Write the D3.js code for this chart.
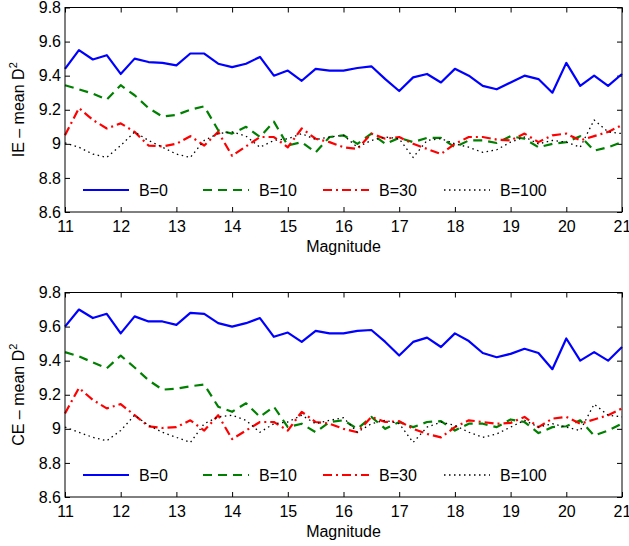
<!DOCTYPE html>
<html>
<head>
<meta charset="utf-8">
<script src="https://cdn.jsdelivr.net/npm/d3@7"></script>
<style>
  body { margin: 0; background: #fff; }
  svg { display: block; font-family: "Liberation Sans", Arial, sans-serif; }
  .axis path { display: none; }
  .axis line { stroke: #000; }
  .axis text { font-size: 16px; fill: #000; font-family: "Liberation Sans", Arial, sans-serif; }
</style>
</head>
<body>
<svg width="629" height="546"></svg>
<script>
// magnitudes (x values)
var magnitude = [11, 11.25, 11.5, 11.75, 12, 12.25, 12.5, 12.75, 13, 13.25, 13.5, 13.75,
  14, 14.25, 14.5, 14.75, 15, 15.25, 15.5, 15.75, 16, 16.25, 16.5, 16.75, 17, 17.25,
  17.5, 17.75, 18, 18.25, 18.5, 18.75, 19, 19.25, 19.5, 19.75, 20, 20.25, 20.5, 20.75, 21];

var xTicks = [11, 12, 13, 14, 15, 16, 17, 18, 19, 20, 21];
var yTicks = [8.6, 8.8, 9, 9.2, 9.4, 9.6, 9.8];
var seriesNames = ["B=0", "B=10", "B=30", "B=100"];

// top panel: IE
var ieB0 = [9.44, 9.55, 9.495, 9.52, 9.41, 9.50, 9.48, 9.475, 9.46, 9.53, 9.53, 9.47,
  9.45, 9.47, 9.51, 9.40, 9.43, 9.37, 9.44, 9.43, 9.43, 9.445, 9.455, 9.38, 9.31, 9.39,
  9.41, 9.36, 9.44, 9.40, 9.34, 9.32, 9.36, 9.40, 9.38, 9.30, 9.475, 9.34, 9.40, 9.34, 9.41];
var ieB10 = [9.344, 9.32, 9.295, 9.26, 9.344, 9.285, 9.21, 9.16, 9.17, 9.20, 9.22, 9.08,
  9.06, 9.10, 9.04, 9.13, 8.99, 9.01, 8.95, 9.04, 9.05, 9.00, 9.06, 9.00, 9.035, 9.01,
  9.035, 9.035, 8.98, 9.02, 9.02, 9.005, 9.045, 9.03, 8.98, 9.00, 9.01, 9.045, 8.96, 8.98, 9.01];
var ieB30 = [9.05, 9.21, 9.14, 9.09, 9.12, 9.07, 8.99, 8.985, 9.00, 9.045, 8.99, 9.07,
  8.93, 8.985, 9.04, 9.04, 8.98, 9.09, 9.03, 9.01, 8.98, 8.97, 9.06, 9.03, 9.04, 9.00,
  8.97, 8.94, 9.00, 9.04, 9.04, 9.025, 9.02, 9.06, 9.01, 9.05, 9.06, 9.02, 9.045, 9.07, 9.11];
var ieB100 = [9.005, 8.98, 8.94, 8.92, 8.99, 9.07, 9.02, 8.98, 8.94, 8.92, 9.02, 9.06,
  9.07, 9.045, 8.98, 9.02, 9.03, 9.06, 9.025, 9.04, 9.05, 8.98, 9.02, 9.04, 9.03, 8.92,
  9.02, 9.03, 9.00, 8.98, 8.95, 8.965, 9.01, 9.04, 9.00, 9.02, 9.01, 8.98, 9.14, 9.07, 9.06];

// bottom panel: CE
var ceB0 = [9.60, 9.70, 9.65, 9.675, 9.56, 9.66, 9.63, 9.63, 9.61, 9.68, 9.675, 9.62,
  9.60, 9.62, 9.65, 9.54, 9.565, 9.51, 9.575, 9.56, 9.56, 9.575, 9.58, 9.51, 9.43, 9.51,
  9.535, 9.48, 9.56, 9.515, 9.445, 9.42, 9.44, 9.47, 9.445, 9.35, 9.53, 9.40, 9.45, 9.40, 9.48];
var ceB10 = [9.45, 9.425, 9.39, 9.355, 9.43, 9.36, 9.285, 9.23, 9.235, 9.25, 9.26, 9.13,
  9.10, 9.15, 9.07, 9.13, 9.01, 9.03, 8.98, 9.04, 9.05, 9.00, 9.07, 9.00, 9.04, 9.01,
  9.04, 9.045, 8.99, 9.03, 9.03, 9.01, 9.055, 9.04, 8.975, 9.01, 9.015, 9.05, 8.96, 8.99, 9.03];
var ceB30 = [9.09, 9.24, 9.17, 9.12, 9.145, 9.08, 9.015, 9.005, 9.01, 9.05, 8.99, 9.08,
  8.94, 8.99, 9.04, 9.04, 8.99, 9.10, 9.04, 9.03, 9.00, 8.98, 9.07, 9.04, 9.045, 9.00,
  8.97, 8.95, 9.01, 9.05, 9.04, 9.03, 9.035, 9.07, 9.01, 9.06, 9.07, 9.03, 9.055, 9.08, 9.12];
var ceB100 = [9.01, 8.98, 8.95, 8.93, 8.99, 9.08, 9.02, 8.98, 8.95, 8.92, 9.03, 9.07,
  9.08, 9.05, 8.98, 9.03, 9.04, 9.08, 9.03, 9.05, 9.065, 8.98, 9.03, 9.05, 9.03, 8.92,
  9.01, 9.04, 9.02, 8.98, 8.95, 8.97, 9.01, 9.05, 9.01, 9.03, 9.01, 8.99, 9.145, 9.08, 9.07];

// line styles
var colors = ["#0000ff", "#008000", "#ff0000", "#000000"];
var dashes = [null, "9,6", "9,4,2,4", "1.5,3.5"];
var widths = [2.2, 2.2, 2.2, 1.3];

var svg = d3.select("svg");

var left = 65, right = 622;
var panelHeight = 204.5;

var xscale = d3.scaleLinear().domain([11, 21]).range([left, right]);

function drawPanel(top, series, label) {
  var bottom = top + panelHeight;
  var yscale = d3.scaleLinear().domain([8.6, 9.8]).range([bottom, top]);
  var g = svg.append("g");
  var fmt = function(d) { return String(+d.toFixed(1)); };

  // axes with inward ticks
  g.append("g").attr("class", "axis")
    .attr("transform", "translate(0," + bottom + ")")
    .call(d3.axisBottom(xscale).tickValues(xTicks).tickSize(-5).tickPadding(9).tickFormat(d3.format("d")));
  g.append("g").attr("class", "axis")
    .attr("transform", "translate(0," + top + ")")
    .call(d3.axisTop(xscale).tickValues(xTicks).tickSize(-5).tickFormat(""));
  g.append("g").attr("class", "axis")
    .attr("transform", "translate(" + left + ",0)")
    .call(d3.axisLeft(yscale).tickValues(yTicks).tickSize(-5).tickPadding(4).tickFormat(fmt));
  g.append("g").attr("class", "axis")
    .attr("transform", "translate(" + right + ",0)")
    .call(d3.axisRight(yscale).tickValues(yTicks).tickSize(-5).tickFormat(""));

  // lines
  var line = d3.line()
    .x(function(d, i) { return xscale(magnitude[i]); })
    .y(function(d) { return yscale(d); });

  series.forEach(function(s, k) {
    g.append("path")
      .datum(s)
      .attr("d", line)
      .attr("fill", "none")
      .attr("stroke", colors[k])
      .attr("stroke-width", widths[k])
      .attr("stroke-dasharray", dashes[k])
      .attr("stroke-linejoin", "round");
  });

  // frame
  g.append("rect")
    .attr("x", left).attr("y", top)
    .attr("width", right - left).attr("height", panelHeight)
    .attr("fill", "none").attr("stroke", "#000").attr("stroke-width", 1);

  // legend
  var legX = [83, 203, 323, 444];
  var legY = top + 182.5;
  seriesNames.forEach(function(name, k) {
    g.append("line")
      .attr("x1", legX[k]).attr("x2", legX[k] + 46)
      .attr("y1", legY).attr("y2", legY)
      .attr("stroke", colors[k])
      .attr("stroke-width", widths[k])
      .attr("stroke-dasharray", dashes[k]);
    g.append("text")
      .attr("x", legX[k] + 56).attr("y", legY + 6)
      .attr("font-size", 16)
      .text(name);
  });

  // y label
  var yl = g.append("text")
    .attr("transform", "translate(24," + (top + panelHeight / 2) + ") rotate(-90)")
    .attr("text-anchor", "middle")
    .attr("font-size", 16);
  yl.append("tspan").text(label + " \u2013 mean D");
  yl.append("tspan").attr("dy", -7).attr("font-size", 11).text("2");

  // x label
  g.append("text")
    .attr("x", (left + right) / 2).attr("y", bottom + 40)
    .attr("text-anchor", "middle")
    .attr("font-size", 16)
    .text("Magnitude");
}

drawPanel(7.5, [ieB0, ieB10, ieB30, ieB100], "IE");
drawPanel(292.5, [ceB0, ceB10, ceB30, ceB100], "CE");
</script>
</body>
</html>
